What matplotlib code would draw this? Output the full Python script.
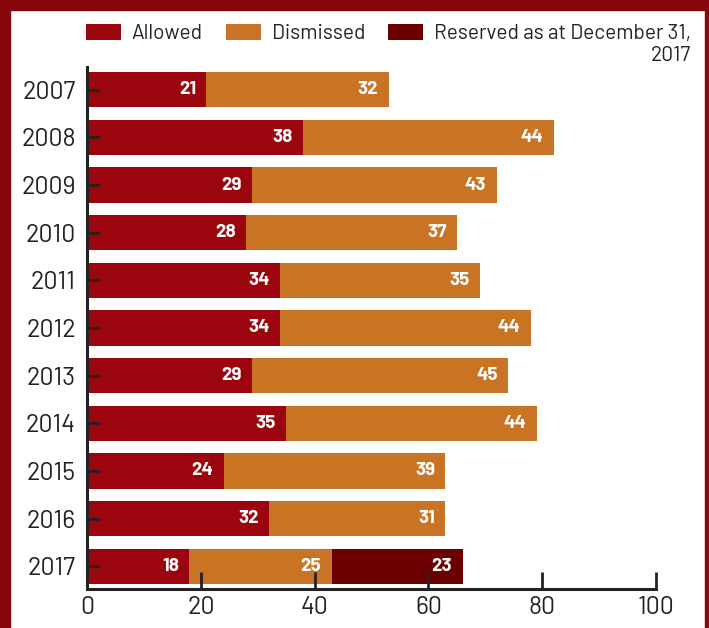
import matplotlib.pyplot as plt
from matplotlib.patches import Rectangle

# Appeal outcomes per year
years = ['2007', '2008', '2009', '2010', '2011', '2012', '2013', '2014', '2015', '2016', '2017']
allowed = [21, 38, 29, 28, 34, 34, 29, 35, 24, 32, 18]
dismissed = [32, 44, 43, 37, 35, 44, 45, 44, 39, 31, 25]
reserved = [0, 0, 0, 0, 0, 0, 0, 0, 0, 0, 23]

c_allowed = '#9b060e'
c_dismissed = '#c87424'
c_reserved = '#6c0000'
c_frame = '#86080c'
c_text = '#222222'

plt.rcParams['font.family'] = ['Barlow', 'DejaVu Sans']

fig = plt.figure(figsize=(7.09, 6.28), dpi=100)
W, H = 709, 628

# dark red frame on top, left and right
fig.patches.append(Rectangle((0, 0), 10 / W, 1, transform=fig.transFigure, color=c_frame, zorder=-1))
fig.patches.append(Rectangle((1 - 4 / W, 0), 4 / W, 1, transform=fig.transFigure, color=c_frame, zorder=-1))
fig.patches.append(Rectangle((0, 1 - 10 / H), 1, 10 / H, transform=fig.transFigure, color=c_frame, zorder=-1))

ax = fig.add_axes([87 / W, 1 - 589 / H, (656 - 87) / W, (589 - 67) / H])

ypos = list(range(len(years)))
h = 0.74
b1 = ax.barh(ypos, allowed, height=h, color=c_allowed, label='Allowed')
b2 = ax.barh(ypos, dismissed, left=allowed, height=h, color=c_dismissed, label='Dismissed')
left3 = [a + d for a, d in zip(allowed, dismissed)]
b3 = ax.barh(ypos, reserved, left=left3, height=h, color=c_reserved,
             label='Reserved as at December 31,')

for bars, vals in [(b1, allowed), (b2, dismissed), (b3, reserved)]:
    for bar, v in zip(bars, vals):
        if v == 0:
            continue
        ax.annotate(str(v), (bar.get_x() + bar.get_width(), bar.get_y() + bar.get_height() / 2),
                    xytext=(-7.5, 0), textcoords='offset points', ha='right', va='center',
                    color='white', fontsize=13.5, fontweight='bold')

ax.set_xlim(0, 100)
ax.set_ylim(10.48, -0.48)
ax.set_yticks(ypos)
ax.set_yticklabels(years)
ax.set_xticks([0, 20, 40, 60, 80, 100])

for side in ['top', 'right']:
    ax.spines[side].set_visible(False)
for side in ['left', 'bottom']:
    ax.spines[side].set_color(c_text)
    ax.spines[side].set_linewidth(2.2)

ax.tick_params(axis='y', direction='in', length=9, width=2, color=c_text,
               labelsize=18, labelcolor=c_text, pad=8)
ax.tick_params(axis='x', direction='in', length=12, width=2, color=c_text,
               labelsize=18, labelcolor=c_text, pad=5)

leg = fig.legend(handles=[b1, b2, b3], loc='upper right', bbox_to_anchor=(691 / W, 1 - 24 / H),
                 ncol=3, frameon=False, fontsize=15, handlelength=1.7, handleheight=0.78,
                 columnspacing=1.1, handletextpad=0.5, labelcolor=c_text,
                 borderaxespad=0, borderpad=0)

# second line of the last legend label, right-aligned under the first
fig.canvas.draw()
bb = leg.get_texts()[-1].get_window_extent().transformed(fig.transFigure.inverted())
fig.text(bb.x1, bb.y0 - 0.004, '2017', ha='right', va='top', fontsize=15, color=c_text)

fig.savefig('out.png', dpi=100, facecolor='white')
